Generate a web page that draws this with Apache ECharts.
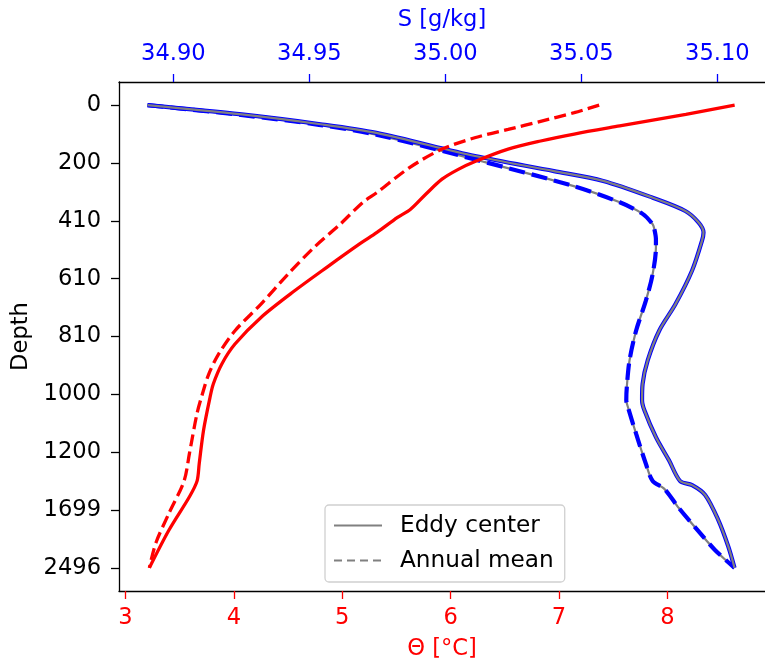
<!DOCTYPE html>
<html>
<head>
<meta charset="utf-8">
<script src="https://cdn.jsdelivr.net/npm/echarts@6/dist/echarts.min.js"></script>
<style>
html,body{margin:0;padding:0;background:#fff;}
#chart{width:765px;height:666px;}
</style>
</head>
<body>
<div id="chart"></div>
<script>
// Depth axis: evenly spaced level positions with depth labels
const depthTickLevels = [0, 1, 2, 3, 4, 5, 6, 7, 8];
const depthTickLabels = ['0', '200', '410', '610', '810', '1000', '1200', '1699', '2496'];
const thetaTicks = [3, 4, 5, 6, 7, 8];
const salinityTicks = [34.90, 34.95, 35.00, 35.05, 35.10];

// Eddy center potential temperature (red solid)
const eddyThetaLevel = [0, 0.16, 0.36, 0.5, 0.62, 0.76, 0.97, 1.11, 1.28, 1.54, 1.8, 1.94, 2.2, 2.4, 2.8, 3.21, 3.67, 4.13, 4.47, 4.82, 5.05, 5.62, 6.2, 6.5, 6.77, 7.35, 8.0];
const eddyTheta = [8.62, 8.17, 7.56, 7.14, 6.83, 6.53, 6.23, 6.07, 5.92, 5.77, 5.63, 5.51, 5.32, 5.16, 4.86, 4.56, 4.25, 4.01, 3.89, 3.81, 3.78, 3.72, 3.68, 3.66, 3.59, 3.40, 3.22];

// Annual mean potential temperature (red dashed)
const annualThetaLevel = [0, 0.13, 0.28, 0.42, 0.56, 0.76, 1.08, 1.51, 1.68, 2.06, 2.46, 2.92, 3.44, 3.9, 4.3, 4.64, 4.99, 5.33, 6.02, 6.5, 7.06, 7.57, 8.0];
const annualTheta = [7.37, 7.14, 6.83, 6.53, 6.23, 5.92, 5.62, 5.32, 5.19, 4.98, 4.74, 4.50, 4.25, 4.01, 3.86, 3.77, 3.71, 3.66, 3.59, 3.54, 3.40, 3.28, 3.22];

// Eddy center salinity (blue solid with grey core)
const eddySLevel = [0, 0.16, 0.33, 0.48, 0.88, 1.14, 1.31, 1.6, 1.83, 2.03, 2.2, 2.35, 2.86, 3.44, 3.9, 4.41, 4.82, 5.1, 5.28, 5.74, 6.14, 6.5, 6.57, 6.74, 7.17, 7.63, 8.0];
const eddyS = [34.8905, 34.9251, 34.9541, 34.9746, 35.0109, 35.0399, 35.0580, 35.0762, 35.0882, 35.0931, 35.0949, 35.0943, 35.0907, 35.0846, 35.0786, 35.0744, 35.0725, 35.0723, 35.0732, 35.0774, 35.0822, 35.0863, 35.0907, 35.0955, 35.1003, 35.1040, 35.1063];

// Annual mean salinity (blue dashed over grey)
const annualSLevel = [0, 0.17, 0.34, 0.51, 0.94, 1.4, 1.68, 1.88, 2.06, 2.14, 2.32, 2.46, 2.92, 3.38, 3.9, 4.41, 4.87, 5.1, 5.22, 5.68, 6.2, 6.5, 6.63, 6.97, 7.37, 7.69, 8.0];
const annualS = [34.8905, 34.9248, 34.9535, 34.9746, 35.0109, 35.0472, 35.0641, 35.0725, 35.0762, 35.0768, 35.0774, 35.0774, 35.0762, 35.0737, 35.0701, 35.0677, 35.0667, 35.0665, 35.0671, 35.0701, 35.0737, 35.0762, 35.0804, 35.0859, 35.0931, 35.0991, 35.1063];

const FONT = 'DejaVu Sans';
const FS = 22.6;
const pairs = (xs, ys) => xs.map((x, i) => [x, ys[i]]);

const chart = echarts.init(document.getElementById('chart'), null, {renderer: 'canvas'});

const baseLine = {type: 'line', symbol: 'none', showSymbol: false, smooth: 0.3, animation: false, silent: true};

chart.setOption({
  backgroundColor: '#ffffff',
  animation: false,
  grid: {left: 119, top: 82, width: 655, height: 510, containLabel: false},
  legend: {
    orient: 'vertical',
    left: 325,
    top: 505,
    padding: [9, 11, 10, 8],
    itemWidth: 48,
    itemHeight: 14,
    itemGap: 12,
    borderColor: '#d0d0d0',
    borderWidth: 1.3,
    borderRadius: 4,
    backgroundColor: 'rgba(255,255,255,0.8)',
    itemStyle: {opacity: 0},
    data: ['Eddy center', 'Annual mean'],
    textStyle: {fontFamily: FONT, fontSize: 23.2, color: '#000', lineHeight: 22, padding: [0, 0, 0, 13]}
  },
  xAxis: [
    {
      type: 'value', position: 'bottom', min: 2.94, max: 8.9,
      name: 'Θ [°C]', nameLocation: 'middle', nameGap: 47,
      nameTextStyle: {fontFamily: FONT, fontSize: FS, color: '#ff0000'},
      axisLine: {show: true, onZero: false, lineStyle: {color: '#000', width: 1.3}},
      axisTick: {show: true, customValues: thetaTicks, length: 8, lineStyle: {color: '#ff0000', width: 1.3}},
      axisLabel: {show: true, customValues: thetaTicks, margin: 16, fontFamily: FONT, fontSize: FS, color: '#ff0000',
        formatter: v => String(Math.round(v))},
      splitLine: {show: false}
    },
    {
      type: 'value', position: 'top', min: 34.88, max: 35.1175,
      name: 'S [g/kg]', nameLocation: 'middle', nameGap: 50,
      nameTextStyle: {fontFamily: FONT, fontSize: FS, color: '#0000ff'},
      axisLine: {show: true, onZero: false, lineStyle: {color: '#000', width: 1.3}},
      axisTick: {show: true, customValues: salinityTicks, length: 8, lineStyle: {color: '#0000ff', width: 1.3}},
      axisLabel: {show: true, customValues: salinityTicks, margin: 16, fontFamily: FONT, fontSize: FS, color: '#0000ff',
        formatter: v => v.toFixed(2)},
      splitLine: {show: false}
    }
  ],
  yAxis: {
    type: 'value', inverse: true, min: -0.4, max: 8.4,
    name: 'Depth', nameLocation: 'middle', nameGap: 83, nameRotate: 90,
    nameTextStyle: {fontFamily: FONT, fontSize: FS, color: '#000'},
    axisLine: {show: true, onZero: false, lineStyle: {color: '#000', width: 1.3}},
    axisTick: {show: true, customValues: depthTickLevels, length: 8, lineStyle: {color: '#000', width: 1.3}},
    axisLabel: {show: true, customValues: depthTickLevels, margin: 18, fontFamily: FONT, fontSize: FS, color: '#000',
      formatter: v => depthTickLabels[depthTickLevels.indexOf(Math.round(v))] || ''},
    splitLine: {show: false}
  },
  series: [
    Object.assign({}, baseLine, {name: 'annualS_grey', xAxisIndex: 1, data: pairs(annualS, annualSLevel),
      lineStyle: {color: '#808080', width: 2.2}}),
    Object.assign({}, baseLine, {name: 'annualS_blue', xAxisIndex: 1, data: pairs(annualS, annualSLevel),
      lineStyle: {color: '#0000ff', width: 4.2, type: [16, 7]}}),
    Object.assign({}, baseLine, {name: 'eddyS_blue', xAxisIndex: 1, data: pairs(eddyS, eddySLevel),
      lineStyle: {color: '#0000ff', width: 4.2}}),
    Object.assign({}, baseLine, {name: 'eddyS_grey', xAxisIndex: 1, data: pairs(eddyS, eddySLevel),
      lineStyle: {color: '#808080', width: 2.2}}),
    Object.assign({}, baseLine, {name: 'eddyTheta', xAxisIndex: 0, data: pairs(eddyTheta, eddyThetaLevel),
      lineStyle: {color: '#ff0000', width: 3.3}}),
    Object.assign({}, baseLine, {name: 'annualTheta', xAxisIndex: 0, data: pairs(annualTheta, annualThetaLevel),
      lineStyle: {color: '#ff0000', width: 3.3, type: [12, 5.3]}}),
    Object.assign({}, baseLine, {name: 'Eddy center', xAxisIndex: 0, data: [],
      lineStyle: {color: '#808080', width: 2.2}, itemStyle: {color: '#808080'}}),
    Object.assign({}, baseLine, {name: 'Annual mean', xAxisIndex: 0, data: [],
      lineStyle: {color: '#808080', width: 2.2, type: [8, 5]}, itemStyle: {color: '#808080'}})
  ]
});
</script>
</body>
</html>
